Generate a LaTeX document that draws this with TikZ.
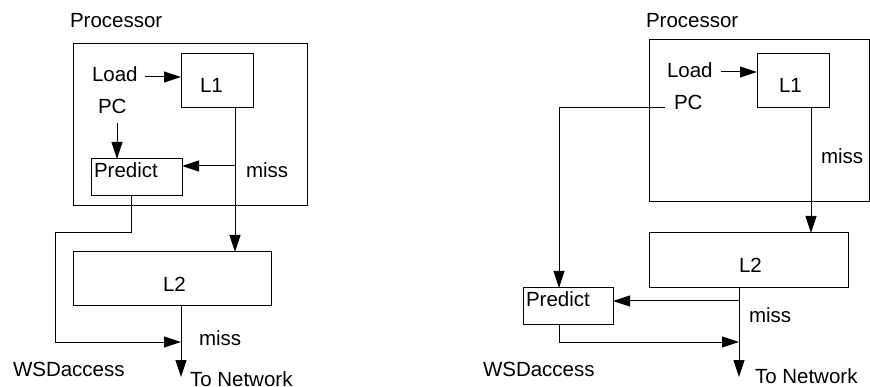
\documentclass[tikz,border=0pt]{standalone}
\usepackage{fontspec}
\setmainfont{Liberation Sans}
\usetikzlibrary{arrows.meta}
\begin{document}
\begin{tikzpicture}[x=1pt,y=-1pt,
  box/.style={draw,line width=1pt,rectangle,inner sep=0pt,outer sep=0pt},
  lbl/.style={anchor=base west,inner sep=0pt,outer sep=0pt,font=\fontsize{20.5}{24}\selectfont},
  arr/.style={line width=1pt,-{Triangle[length=17pt,width=11pt]}},
  wire/.style={line width=1pt}]
\useasboundingbox (0,0) rectangle (870,387);
% ---------- left diagram ----------
\node[lbl] (procAL) at (70,28) {Processor};
\node[box,minimum width=234,minimum height=162] (procA) at (190,125) {};
\node[box,minimum width=72,minimum height=54] (L1a) at (217,81) {};
\node[lbl] (L1aL) at (200,93) {L1};
\node[lbl] (loadA) at (92,82) {Load};
\node[lbl] (pcA) at (98,114) {PC};
\node[box,minimum width=91,minimum height=37] (predA) at (136.5,177.5) {};
\node[lbl] (predAL) at (94,178) {Predict};
\node[lbl] (missA1) at (246,178) {miss};
\node[box,minimum width=198,minimum height=54] (L2a) at (172,279) {};
\node[lbl] (L2aL) at (163,292) {L2};
\node[lbl] (missA2) at (199,345) {miss};
\node[lbl] (wsdA) at (13,376) {WSDaccess};
\node[lbl] (netA) at (190,386) {To Network};
\coordinate (loadAs) at (145,77);
\coordinate (pcAs) at (117,123);
\coordinate (brA) at (235,166);
\coordinate (endA) at (181,377);
\draw[arr] (loadAs) -- (loadAs -| L1a.west);
\draw[arr] (pcAs) -- (pcAs |- predA.north);
\draw[arr] ([xshift=18pt]L1a.south) -- ([xshift=18pt]L1a.south |- L2a.north);
\draw[arr] (brA) -- (brA -| predA.east);
\draw[arr] ([xshift=-5.5pt]predA.south) |- (55,233) |- (endA |- 0,342);
\draw[arr] ([xshift=9pt]L2a.south) -- (endA);
% ---------- right diagram ----------
\node[lbl] (procBL) at (646,28) {Processor};
\node[box,minimum width=220,minimum height=162] (procB) at (759,121) {};
\node[box,minimum width=72,minimum height=54] (L1b) at (793,81) {};
\node[lbl] (L1bL) at (779,93) {L1};
\node[lbl] (loadB) at (667,78) {Load};
\node[lbl] (pcB) at (674,110) {PC};
\node[lbl] (missB1) at (821,164) {miss};
\node[box,minimum width=199,minimum height=55] (L2b) at (748.5,260.5) {};
\node[lbl] (L2bL) at (739,273) {L2};
\node[box,minimum width=90,minimum height=36] (predB) at (568,306) {};
\node[lbl] (predBL) at (526,307) {Predict};
\node[lbl] (missB2) at (749,323) {miss};
\node[lbl] (wsdB) at (483,376) {WSDaccess};
\node[lbl] (netB) at (755,383) {To Network};
\coordinate (loadBs) at (721,72);
\coordinate (pcBs) at (665,108);
\coordinate (brB) at (739,301);
\coordinate (endB) at (739,377);
\draw[arr] (loadBs) -- (loadBs -| L1b.west);
\draw[arr] (pcBs) -| ([xshift=-9pt]predB.north);
\draw[arr] ([xshift=18pt]L1b.south) -- ([xshift=18pt]L1b.south |- L2b.north);
\draw[arr] ([xshift=-9.5pt]L2b.south) -- (endB);
\draw[arr] (brB) -- (brB -| predB.east);
\draw[arr] ([xshift=-9pt]predB.south) |- (endB |- 0,342);
\end{tikzpicture}
\end{document}
